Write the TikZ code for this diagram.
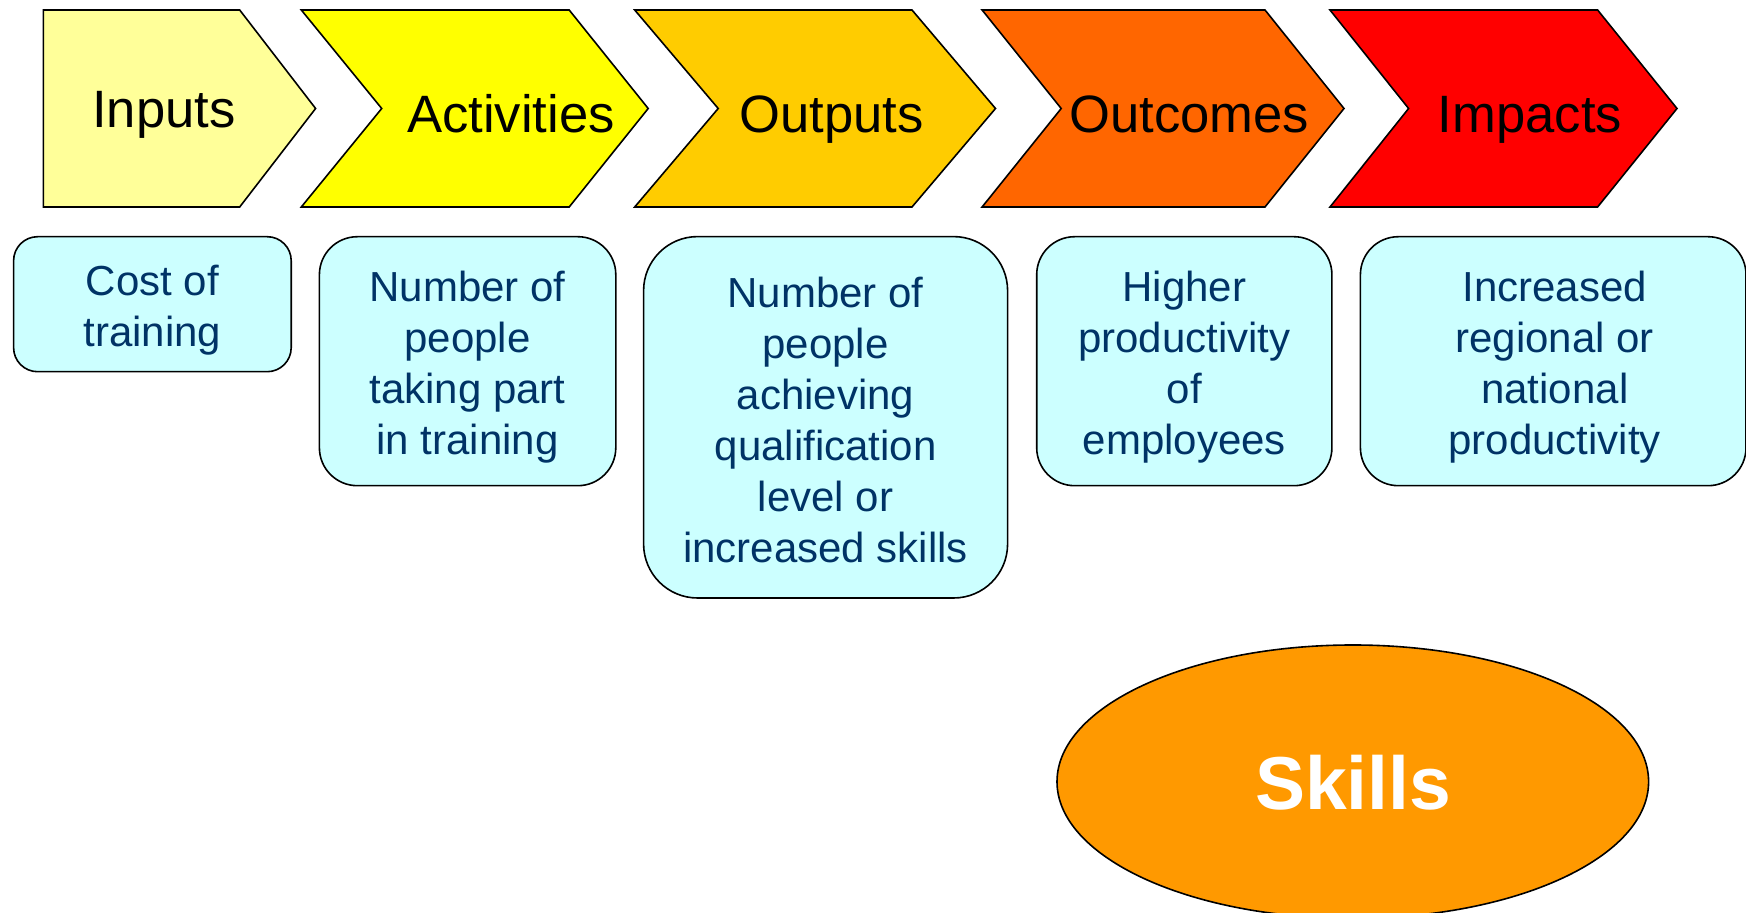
\documentclass[tikz,border=0pt]{standalone}
\usepackage{fontspec}
\setmainfont{Liberation Sans}
\usetikzlibrary{shapes.geometric}
\definecolor{cInputs}{HTML}{FFFF99}
\definecolor{cActiv}{HTML}{FFFF00}
\definecolor{cOutputs}{HTML}{FFCC00}
\definecolor{cOutcomes}{HTML}{FF6600}
\definecolor{cImpacts}{HTML}{FF0000}
\definecolor{cBox}{HTML}{CCFFFF}
\definecolor{cText}{HTML}{003366}
\definecolor{cSkills}{HTML}{FF9900}
\tikzset{
  chev/.style={draw=black, line width=0.8pt, line join=miter},
  headtxt/.style={anchor=base, inner sep=0pt, text=black, font=\fontsize{26.3}{30}\selectfont},
  infobox/.style={draw=black, line width=0.8pt, fill=cBox, inner sep=0pt},
  boxtxt/.style={text=cText, align=center, inner sep=0pt, font=\fontsize{21}{25.5}\selectfont},
}
\begin{document}
\begin{tikzpicture}[x=0.5pt, y=-0.5pt]
\useasboundingbox (0,0) rectangle (1746,913);
% chevrons
\draw[chev, fill=cInputs] (43.3,10) -- (239.7,10) -- (315.6,108.5) -- (239.7,207) -- (43.3,207) -- cycle;
\draw[chev, fill=cActiv] (301.3,10) -- (569.2,10) -- (648.2,108.5) -- (569.2,207) -- (301.3,207) -- (381.7,108.5) -- cycle;
\draw[chev, fill=cOutputs] (634.7,10) -- (912,10) -- (995.5,108.5) -- (912,207) -- (634.7,207) -- (718.2,108.5) -- cycle;
\draw[chev, fill=cOutcomes] (982.1,10) -- (1265,10) -- (1344,108.5) -- (1265,207) -- (982.1,207) -- (1061.2,108.5) -- cycle;
\draw[chev, fill=cImpacts] (1330,10) -- (1597.6,10) -- (1677,108.5) -- (1597.6,207) -- (1330,207) -- (1408.6,108.5) -- cycle;
\node[headtxt] (tInputs) at (164,128) {Inputs};
\node[headtxt] (tActiv) at (511,132.3) {Activities};
\node[headtxt] (tOutputs) at (831.8,132.3) {Outputs};
\node[headtxt] (tOutcomes) at (1189.3,132.3) {Outcomes};
\node[headtxt] (tImpacts) at (1530,132.3) {Impacts};
% boxes
\node[infobox, minimum width=138.8pt, minimum height=67.5pt, rounded corners=12pt] (b1) at (152.4,304.2) {};
\node[boxtxt] (b1t) at ([yshift=-2.9pt]b1.center) {Cost of\\training};
\node[infobox, minimum width=148.2pt, minimum height=124.5pt, rounded corners=19pt] (b2) at (467.6,361.2) {};
\node[boxtxt] (b2t) at ([yshift=-3.2pt]b2.center) {Number of\\people\\taking part\\in training};
\node[infobox, minimum width=182pt, minimum height=180.7pt, rounded corners=27pt] (b3) at (825.6,417.3) {};
\node[boxtxt] (b3t) at ([yshift=-1.4pt]b3.center) {Number of\\people\\achieving\\qualification\\level or\\increased skills};
\node[infobox, minimum width=147.6pt, minimum height=124.5pt, rounded corners=19pt] (b4) at (1184.3,361.2) {};
\node[boxtxt] (b4t) at ([yshift=-3.2pt]b4.center) {Higher\\productivity\\of\\employees};
\node[infobox, minimum width=192.8pt, minimum height=124.5pt, rounded corners=19pt] (b5) at (1553.2,361.2) {};
\node[boxtxt] (b5t) at ([xshift=0.8pt, yshift=-3.2pt]b5.center) {Increased\\regional or\\national\\productivity};
% ellipse
\node[ellipse, draw=black, line width=0.8pt, fill=cSkills, minimum width=295.8pt, minimum height=136.7pt, inner sep=0pt] (sk) at (1352.8,781.7) {};
\node[anchor=base, inner sep=0pt, text=white, font=\bfseries\fontsize{37.5}{40}\selectfont] (skt) at (1353,810) {Skills};
\end{tikzpicture}
\end{document}
